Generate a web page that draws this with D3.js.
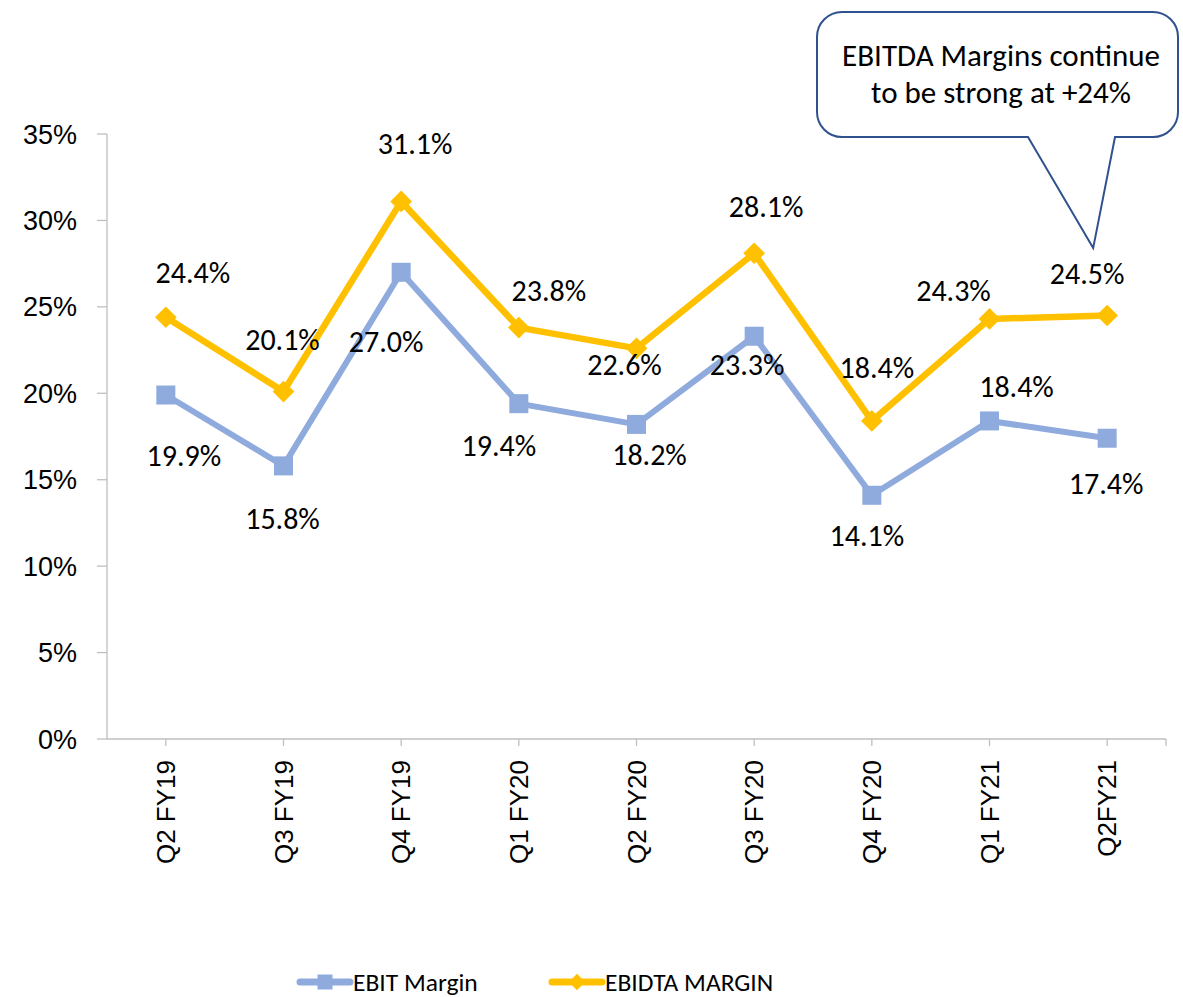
<!DOCTYPE html>
<html>
<head>
<meta charset="utf-8">
<script src="https://cdn.jsdelivr.net/npm/d3@7"></script>
<style>
  body { margin: 0; background: #fff; }
  svg { display: block; }
</style>
</head>
<body>
<div id="chart"></div>
<script>
// EBIT / EBITDA margin chart

var quarters = ["Q2 FY19", "Q3 FY19", "Q4 FY19", "Q1 FY20", "Q2 FY20", "Q3 FY20", "Q4 FY20", "Q1 FY21", "Q2FY21"];
var ebitMargin = [19.9, 15.8, 27.0, 19.4, 18.2, 23.3, 14.1, 18.4, 17.4];
var ebitdaMargin = [24.4, 20.1, 31.1, 23.8, 22.6, 28.1, 18.4, 24.3, 24.5];
var yTicks = [0, 5, 10, 15, 20, 25, 30, 35];
var seriesNames = ["EBIT Margin", "EBIDTA MARGIN"];
var calloutLines = ["EBITDA Margins continue", "to be strong at +24%"];

// label nudges (px from the point to the label centre), as placed in the original
var ebitNudge = [[18, 60], [-1, 52], [-15, 69], [-20, 41], [13, 30], [-7, 28], [-5, 40], [27, -35], [-1, 45]];
var ebitdaNudge = [[27, -45], [-1, -53], [14, -58], [30, -38], [-12, 16], [12, -47], [5, -54], [-36, -29], [-20, -43]];

var width = 1183,
    height = 997,
    axisColor = "#bfbfbf",
    ebitColor = "#8faadc",
    ebitdaColor = "#ffc000",
    calloutColor = "#2f528f",
    labelFont = "Carlito, Calibri, Lato, sans-serif",
    axisFont = "'Liberation Sans', Arial, sans-serif";

var svg = d3.select("#chart").append("svg")
    .attr("width", width)
    .attr("height", height);

var x = d3.scalePoint()
    .domain(quarters)
    .range([107, 1166])
    .padding(0.5);

var y = d3.scaleLinear()
    .domain([0, 35])
    .range([739, 134]);

// axes
svg.append("line")
    .attr("x1", 107).attr("x2", 107)
    .attr("y1", y(35)).attr("y2", y(0))
    .attr("stroke", axisColor).attr("stroke-width", 1.3);

svg.append("line")
    .attr("x1", 107).attr("x2", 1166)
    .attr("y1", y(0)).attr("y2", y(0))
    .attr("stroke", axisColor).attr("stroke-width", 1.3);

svg.selectAll(".ytick")
    .data(yTicks)
  .enter().append("line")
    .attr("class", "ytick")
    .attr("x1", 97).attr("x2", 107)
    .attr("y1", function(d) { return y(d); })
    .attr("y2", function(d) { return y(d); })
    .attr("stroke", axisColor).attr("stroke-width", 1.3);

svg.selectAll(".ylabel")
    .data(yTicks)
  .enter().append("text")
    .attr("class", "ylabel")
    .attr("x", 77)
    .attr("y", function(d) { return y(d) + 9.5; })
    .attr("text-anchor", "end")
    .style("font-family", axisFont)
    .style("font-size", "27px")
    .attr("fill", "#000")
    .text(function(d) { return d + "%"; });

var xTickPos = quarters.map(function(q) { return x(q); }).concat([1166]);
svg.selectAll(".xtick")
    .data(xTickPos)
  .enter().append("line")
    .attr("class", "xtick")
    .attr("x1", function(d) { return d; })
    .attr("x2", function(d) { return d; })
    .attr("y1", y(0)).attr("y2", y(0) + 7)
    .attr("stroke", axisColor).attr("stroke-width", 1.3);

svg.selectAll(".xlabel")
    .data(quarters)
  .enter().append("text")
    .attr("class", "xlabel")
    .attr("transform", function(d) { return "translate(" + (x(d) + 9) + ",760) rotate(-90)"; })
    .attr("text-anchor", "end")
    .style("font-family", axisFont)
    .style("font-size", "26px")
    .attr("fill", "#000")
    .text(function(d) { return d; });

// lines + markers
var line = d3.line()
    .x(function(d, i) { return x(quarters[i]); })
    .y(function(d) { return y(d); });

svg.append("path")
    .datum(ebitMargin)
    .attr("d", line)
    .attr("fill", "none")
    .attr("stroke", ebitColor)
    .attr("stroke-width", 6)
    .attr("stroke-linejoin", "round");

svg.append("path")
    .datum(ebitdaMargin)
    .attr("d", line)
    .attr("fill", "none")
    .attr("stroke", ebitdaColor)
    .attr("stroke-width", 6.5)
    .attr("stroke-linejoin", "round");

var sq = 19;
svg.selectAll(".sq")
    .data(ebitMargin)
  .enter().append("rect")
    .attr("class", "sq")
    .attr("x", function(d, i) { return x(quarters[i]) - sq / 2; })
    .attr("y", function(d) { return y(d) - sq / 2; })
    .attr("width", sq).attr("height", sq)
    .attr("fill", ebitColor);

var diamond = d3.symbol().type(d3.symbolDiamond2).size(300);
svg.selectAll(".dia")
    .data(ebitdaMargin)
  .enter().append("path")
    .attr("class", "dia")
    .attr("d", diamond)
    .attr("transform", function(d, i) { return "translate(" + x(quarters[i]) + "," + y(d) + ")"; })
    .attr("fill", ebitdaColor);

// data labels
function addLabels(values, nudge) {
  svg.append("g").selectAll("text")
      .data(values)
    .enter().append("text")
      .attr("x", function(d, i) { return x(quarters[i]) + nudge[i][0]; })
      .attr("y", function(d, i) { return y(d) + nudge[i][1] + 11; })
      .attr("text-anchor", "middle")
      .style("font-family", labelFont)
      .style("font-size", "30px")
      .attr("fill", "#000")
      .text(function(d) { return d.toFixed(1) + "%"; });
}
addLabels(ebitMargin, ebitNudge);
addLabels(ebitdaMargin, ebitdaNudge);

// callout box
var bx0 = 817, bx1 = 1178, by0 = 12, by1 = 137, r = 25;
var tipX = x(quarters[8]) - 14, tipY = y(28.4);
var tailL = 1028, tailR = 1115;
var callout = d3.path();
callout.moveTo(bx0 + r, by0);
callout.lineTo(bx1 - r, by0);
callout.arcTo(bx1, by0, bx1, by0 + r, r);
callout.lineTo(bx1, by1 - r);
callout.arcTo(bx1, by1, bx1 - r, by1, r);
callout.lineTo(tailR, by1);
callout.lineTo(tipX, tipY);
callout.lineTo(tailL, by1);
callout.lineTo(bx0 + r, by1);
callout.arcTo(bx0, by1, bx0, by1 - r, r);
callout.lineTo(bx0, by0 + r);
callout.arcTo(bx0, by0, bx0 + r, by0, r);
callout.closePath();

svg.append("path")
    .attr("d", callout.toString())
    .attr("fill", "#fff")
    .attr("stroke", calloutColor)
    .attr("stroke-width", 2);

svg.selectAll(".callout")
    .data(calloutLines)
  .enter().append("text")
    .attr("class", "callout")
    .attr("x", 1001)
    .attr("y", function(d, i) { return 66 + i * 37; })
    .attr("text-anchor", "middle")
    .style("font-family", labelFont)
    .style("font-size", "31px")
    .attr("fill", "#000")
    .text(function(d) { return d; });

// legend
var legendX = [300, 552];
var legend = svg.selectAll(".legend")
    .data(seriesNames)
  .enter().append("g")
    .attr("class", "legend")
    .attr("transform", function(d, i) { return "translate(" + legendX[i] + ",982)"; });

legend.append("line")
    .attr("x1", 0).attr("x2", 50)
    .attr("stroke", function(d, i) { return i == 0 ? ebitColor : ebitdaColor; })
    .attr("stroke-width", 7)
    .attr("stroke-linecap", "round");

legend.append("path")
    .attr("d", function(d, i) {
      return i == 0 ? d3.symbol().type(d3.symbolSquare).size(225)()
                    : d3.symbol().type(d3.symbolDiamond2).size(170)();
    })
    .attr("transform", "translate(25,0)")
    .attr("fill", function(d, i) { return i == 0 ? ebitColor : ebitdaColor; });

legend.append("text")
    .attr("x", 53)
    .attr("y", 9)
    .style("font-family", labelFont)
    .style("font-size", "25.5px")
    .attr("fill", "#000")
    .text(function(d) { return d; });
</script>
</body>
</html>
